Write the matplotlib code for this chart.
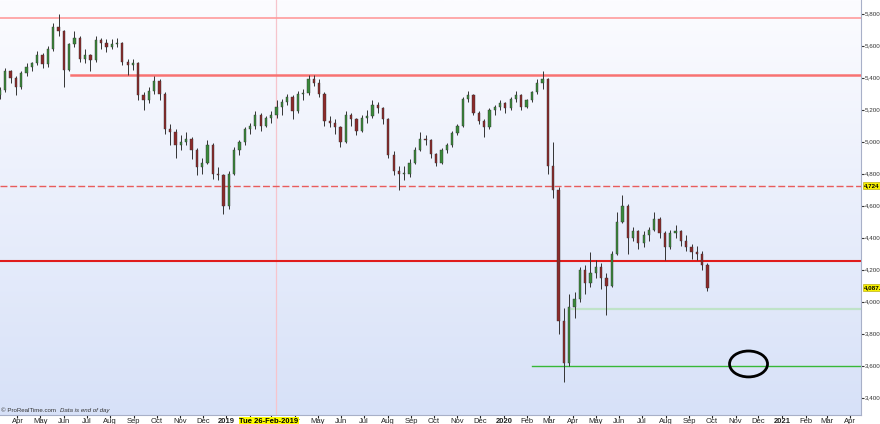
import numpy as np
import pandas as pd
import matplotlib.pyplot as plt
import matplotlib.dates as mdates
from matplotlib.colors import LinearSegmentedColormap
from matplotlib.patches import Ellipse
from matplotlib.transforms import blended_transform_factory

plt.rcParams['font.family'] = ['Liberation Sans', 'DejaVu Sans']

# weekly candles, week ending Friday, from 9 Mar 2018
week_start = "2018-03-09"
opens = [5290, 5323, 5440, 5400, 5340, 5430, 5470, 5490, 5540, 5485,
         5580, 5720, 5690, 5450, 5610, 5650, 5520, 5540, 5510, 5635,
         5615, 5595, 5610, 5620, 5500, 5480, 5490, 5290, 5260, 5320,
         5380, 5300, 5080, 5060, 4980, 5000, 5020, 4950, 4840, 4870,
         4980, 4800, 4790, 4600, 4800, 4950, 5000, 5080, 5100, 5170,
         5100, 5150, 5170, 5220, 5250, 5280, 5190, 5300, 5305, 5390,
         5370, 5300, 5130, 5120, 5090, 5000, 5170, 5140, 5070, 5150,
         5160, 5230, 5210, 5140, 4920, 4820, 4800, 4800, 4870, 4950,
         5020, 5010, 4925, 4870, 4950, 4980, 5055, 5100, 5270, 5290,
         5180, 5130, 5090, 5200, 5215, 5240, 5210, 5265, 5290, 5220,
         5260, 5310, 5370, 5390, 4850, 4700, 3880, 3620, 3970, 4020,
         4200, 4120, 4180, 4220, 4150, 4100, 4300, 4500, 4600, 4400,
         4440, 4370, 4420, 4450, 4520, 4430, 4340, 4430, 4440, 4380,
         4340, 4310, 4300, 4230]
highs = [5340, 5460, 5450, 5410, 5440, 5490, 5500, 5570, 5555, 5600,
         5740, 5800, 5700, 5620, 5690, 5660, 5580, 5550, 5660, 5650,
         5640, 5640, 5650, 5625, 5520, 5520, 5500, 5310, 5340, 5410,
         5390, 5310, 5110, 5080, 5040, 5060, 5030, 4960, 4900, 5010,
         4990, 4840, 4800, 4820, 4970, 5010, 5090, 5120, 5190, 5180,
         5160, 5190, 5260, 5270, 5300, 5290, 5320, 5330, 5420, 5420,
         5390, 5310, 5160, 5140, 5100, 5190, 5180, 5150, 5170, 5200,
         5260, 5250, 5220, 5150, 4940, 4850, 4850, 4890, 4970, 5060,
         5040, 5020, 4930, 4960, 4990, 5070, 5110, 5280, 5320, 5300,
         5190, 5140, 5210, 5230, 5260, 5250, 5280, 5320, 5300, 5270,
         5320, 5390, 5445, 5400, 5000, 4720, 3960, 4050, 4060, 4220,
         4230, 4310, 4260, 4240, 4180, 4320, 4560, 4670, 4610, 4470,
         4450, 4440, 4470, 4560, 4530, 4440, 4450, 4480, 4450, 4420,
         4360, 4350, 4320, 4240]
lows = [5270, 5310, 5370, 5290, 5330, 5410, 5440, 5480, 5460, 5470,
        5570, 5660, 5340, 5440, 5590, 5500, 5490, 5440, 5500, 5580,
        5560, 5580, 5590, 5480, 5420, 5450, 5260, 5200, 5240, 5300,
        5260, 5050, 4980, 4900, 4950, 4980, 4890, 4790, 4800, 4860,
        4770, 4760, 4550, 4580, 4790, 4920, 4980, 5050, 5080, 5070,
        5090, 5120, 5150, 5170, 5230, 5140, 5180, 5260, 5290, 5350,
        5280, 5100, 5090, 5050, 4970, 4990, 5100, 5040, 5060, 5120,
        5150, 5180, 5110, 4900, 4790, 4700, 4760, 4780, 4860, 4940,
        4980, 4900, 4850, 4860, 4930, 4970, 5040, 5090, 5250, 5170,
        5110, 5030, 5080, 5170, 5200, 5180, 5200, 5250, 5200, 5210,
        5250, 5300, 5330, 4800, 4650, 3800, 3500, 3600, 3900, 4000,
        4050, 4090, 4150, 4080, 3920, 4090, 4290, 4490, 4300, 4380,
        4330, 4340, 4380, 4440, 4400, 4260, 4330, 4400, 4350, 4320,
        4270, 4260, 4200, 4070]
closes = [5323, 5440, 5400, 5340, 5430, 5470, 5490, 5540, 5485, 5580,
          5720, 5690, 5450, 5610, 5650, 5520, 5540, 5510, 5635, 5615,
          5595, 5610, 5620, 5500, 5480, 5490, 5290, 5260, 5320, 5380,
          5300, 5080, 5060, 4980, 5000, 5020, 4950, 4840, 4870, 4980,
          4800, 4790, 4600, 4800, 4950, 5000, 5080, 5100, 5170, 5100,
          5150, 5170, 5220, 5250, 5280, 5190, 5300, 5305, 5390, 5370,
          5300, 5130, 5120, 5090, 5000, 5170, 5140, 5070, 5150, 5160,
          5230, 5210, 5140, 4920, 4820, 4800, 4800, 4870, 4950, 5020,
          5010, 4925, 4870, 4950, 4980, 5055, 5100, 5270, 5290, 5180,
          5130, 5090, 5200, 5215, 5240, 5210, 5265, 5290, 5220, 5260,
          5310, 5370, 5390, 4850, 4700, 3880, 3620, 3970, 4020, 4200,
          4120, 4180, 4220, 4150, 4100, 4300, 4500, 4600, 4400, 4440,
          4370, 4420, 4450, 4520, 4430, 4340, 4430, 4440, 4380, 4340,
          4310, 4300, 4230, 4087.5]

# horizontal levels: (value, start date or None, colour, width, style)
levels = [
    (5775, None, '#ff9c9c', 1.2, '-'),
    (5420, "2018-06-11", '#f87272', 1.8, '-'),
    (4724, None, '#e85c5c', 1.0, (0, (5, 2))),
    (4255, None, '#e01c1c', 1.5, '-'),
    (3956, "2020-03-31", '#bfe3c8', 1.6, '-'),
    (3600, "2020-02-07", '#38b838', 1.0, '-'),
]
tags = [(4724, "4,724"), (4087.5, "4,087.5")]
cursor_label = "Tue 26-Feb-2019"

dates = pd.date_range(week_start, periods=len(closes), freq='7D')
x = mdates.date2num(dates)
o = np.array(opens); h = np.array(highs); l = np.array(lows); c = np.array(closes)

fig = plt.figure(figsize=(8.8, 4.24), dpi=100)
ax = fig.add_axes([0, 9 / 424, 861 / 880, 415 / 424])

# background gradient
cmap = LinearSegmentedColormap.from_list('bg', ['#fcfcff', '#d7e1f8'])
ax.imshow(np.linspace(0, 1, 256).reshape(-1, 1), cmap=cmap, aspect='auto',
          extent=[0, 1, 0, 1], transform=ax.transAxes, zorder=0)

# levels
x0, x1 = mdates.date2num(pd.Timestamp("2018-03-09")), mdates.date2num(pd.Timestamp("2021-04-15"))
for val, start, col, lw, ls in levels:
    xs = x0 if start is None else mdates.date2num(pd.Timestamp(start))
    ax.plot([xs, x1], [val, val], color=col, lw=lw, ls=ls, zorder=2)

# cursor line
ax.axvline(mdates.date2num(pd.Timestamp("2019-03-07")), color='#f6c4cc', lw=0.9, zorder=1)

# candles
up = c >= o
ax.vlines(x, l, h, color='#333333', lw=0.7, zorder=3)
body_lo = np.minimum(o, c)
body_h = np.maximum(np.abs(c - o), 4)
ax.bar(x[up], body_h[up], 3.0, bottom=body_lo[up], color='#3a8a3a',
       edgecolor='#333333', lw=0.3, zorder=4)
ax.bar(x[~up], body_h[~up], 3.0, bottom=body_lo[~up], color='#8c2a2a',
       edgecolor='#333333', lw=0.3, zorder=4)

# target ellipse
ax.add_patch(Ellipse((mdates.date2num(pd.Timestamp("2020-11-18")), 3611), 50, 162,
                     fill=False, ec='black', lw=2, zorder=5))

ax.set_xlim(x0, x1)
ax.set_ylim(3292, 5886)

# axes styling
for s in ['top', 'left']:
    ax.spines[s].set_visible(False)
ax.spines['right'].set_color('#a8b0c8')
ax.spines['bottom'].set_color('#a8b0c8')
ax.yaxis.tick_right()
ax.set_yticks(range(3400, 5801, 200))
ax.set_yticklabels([f"{v:,}" for v in range(3400, 5801, 200)])
ax.tick_params(axis='y', labelsize=4.5, colors='#333333', length=2, pad=1)

months = pd.date_range("2018-04-01", "2021-04-01", freq='MS')
ax.set_xticks(mdates.date2num(months))
ax.set_xticklabels([str(m.year) if m.month == 1 else m.strftime('%b') for m in months])
for lab, m in zip(ax.get_xticklabels(), months):
    if m.month == 1:
        lab.set_fontweight('bold')
ax.tick_params(axis='x', labelsize=5.5, colors='#222222', length=2, pad=0.5)

# price tags on the right scale
for val, txt in tags:
    ax.text(1.003, val, txt, transform=blended_transform_factory(ax.transAxes, ax.transData),
            fontsize=4.5, fontweight='bold', va='center', ha='left', clip_on=False,
            bbox=dict(boxstyle='square,pad=0.15', fc='#f6f000', ec='#b0a000', lw=0.4))

# cursor date label
ax.text(mdates.date2num(pd.Timestamp("2019-02-26")), 2.5 / 424, cursor_label,
        transform=blended_transform_factory(ax.transData, fig.transFigure),
        fontsize=5.5, fontweight='bold', ha='center', va='center', zorder=10,
        bbox=dict(boxstyle='square,pad=0.1', fc='#ffff00', ec='none'))

ax.text(0.001, 0.004, "\u00a9 ProRealTime.com", transform=ax.transAxes,
        fontsize=4.4, color='#333333', va='bottom', ha='left')
ax.text(0.070, 0.004, "Data is end of day", transform=ax.transAxes,
        fontsize=4.4, color='#333333', va='bottom', ha='left', style='italic')

fig.savefig('out.png', dpi=100)
